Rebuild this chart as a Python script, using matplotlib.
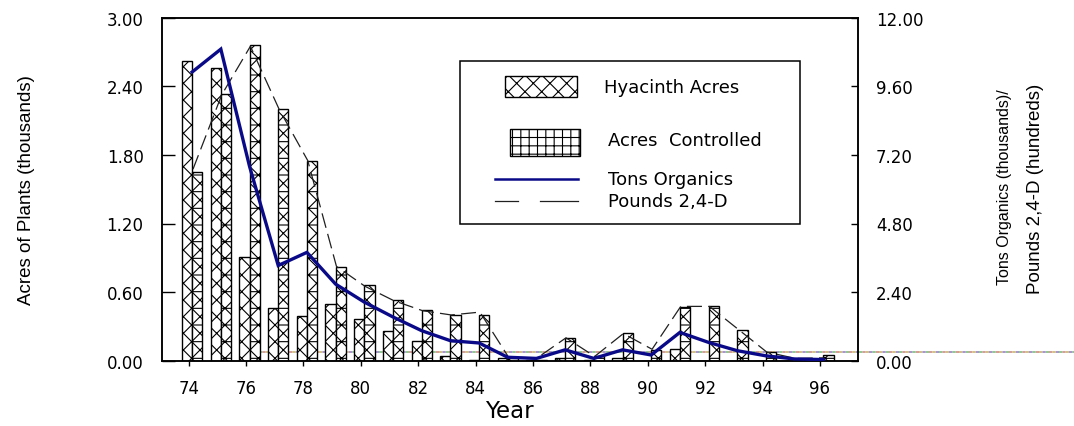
import matplotlib
matplotlib.use("Agg")
import matplotlib.pyplot as plt
from matplotlib.patches import Rectangle
from matplotlib.lines import Line2D
import numpy as np

# ---------------- data ----------------
years = list(range(74, 97))
hyacinth_acres = [2.62, 2.56, 0.91, 0.46, 0.39, 0.50, 0.365, 0.26, 0.17, 0.04, 0.01, 0.02,
                  0.01, 0.02, 0.01, 0.02, 0.0, 0.10, 0.0, 0.0, 0.0, 0.0, 0.0]
acres_controlled = [1.65, 2.33, 2.76, 2.20, 1.745, 0.82, 0.665, 0.53, 0.44, 0.40, 0.40, 0.02,
                    0.01, 0.195, 0.04, 0.24, 0.09, 0.47, 0.48, 0.27, 0.08, 0.01, 0.05]
tons_organics = [10.1, 10.9, 6.8, 3.33, 3.79, 2.68, 2.05, 1.53, 1.05, 0.70, 0.62, 0.12,
                 0.08, 0.38, 0.08, 0.38, 0.20, 0.99, 0.64, 0.35, 0.17, 0.06, 0.04]
pounds_24d = [6.7, 9.3, 11.0, 8.8, 7.0, 3.3, 2.6, 2.1, 1.75, 1.6, 1.7, 0.12,
              0.10, 0.80, 0.15, 0.95, 0.40, 1.9, 1.9, 1.1, 0.30, 0.08, 0.10]
reference_level = 0.08
left_ticks = [0.0, 0.6, 1.2, 1.8, 2.4, 3.0]
right_ticks = [0.0, 2.4, 4.8, 7.2, 9.6, 12.0]
x_ticks = list(range(74, 97, 2))
legend_labels = ["Hyacinth Acres", "Acres  Controlled", "Tons Organics", "Pounds 2,4-D"]

# ---------------- figure ----------------
plt.rcParams["font.family"] = ["DejaVu Sans"]
plt.rcParams["hatch.linewidth"] = 0.8
W, H = 1074, 427
fig = plt.figure(figsize=(W / 100, H / 100), dpi=100)

def fx(px):
    return px / W

def fy(py):
    return 1 - py / H

L, R, T, B = 162.3, 857.5, 18.7, 361.7
ax = fig.add_axes([fx(L), fy(B), (R - L) / W, (B - T) / H])
ax2 = ax.twinx()

x = np.array(years, dtype=float)
bw = 0.355
ax.bar(x - 0.056, hyacinth_acres, width=bw, facecolor="white", edgecolor="black",
       hatch="xx", linewidth=1.0, zorder=2)
ax.bar(x + 0.30, acres_controlled, width=bw, facecolor="white", edgecolor="black",
       hatch="xx-", linewidth=1.0, zorder=2)

ax.set_xlim(73.08, 97.31)
ax.set_ylim(0, 3.0)
ax2.set_ylim(0, 12.0)

# odd multicoloured dotted reference line extending past the axes
xr = [76.1, 105]
for col, off in zip(["#d08a8a", "#7cc07c", "#9a80c8", "#c8b870"], [0, 2, 4, 6]):
    ax.plot(xr, [reference_level, reference_level], color=col, lw=1.2,
            linestyle=(off, (2, 6)), dash_capstyle="butt", clip_on=False, zorder=1)

ax2.plot(x + 0.15, pounds_24d, color="#202020", lw=0.9, dashes=(12, 5), zorder=3)
ax2.plot(x + 0.12, tons_organics, color="#0a0a88", lw=2.4, zorder=4,
         solid_joinstyle="miter")

ax.set_xticks(x_ticks)
ax.set_xticklabels([str(v) for v in x_ticks])
ax.set_yticks(left_ticks)
ax.set_yticklabels(["%.2f" % v for v in left_ticks])
ax2.set_yticks(right_ticks)
ax2.set_yticklabels(["%.2f" % v for v in right_ticks])

ax.tick_params(axis="x", direction="out", length=3.6, width=1, pad=9.3, labelsize=12)
ax.tick_params(axis="y", direction="in", length=9, width=1, pad=13.5, labelsize=12)
ax2.tick_params(axis="y", direction="in", length=5, width=1, pad=13.3, labelsize=12)
for a in (ax, ax2):
    for s in a.spines.values():
        s.set_linewidth(1.1)

fig.text(fx(27), fy(190.5), "Acres of Plants (thousands)", rotation=90,
         ha="center", va="center", fontsize=13.5, family=["Liberation Sans"])
fig.text(fx(1004), fy(187.5), "Tons Organics (thousands)/", rotation=90,
         ha="center", va="center", fontsize=11.5, family=["Liberation Sans"])
fig.text(fx(1035), fy(189), "Pounds 2,4-D (hundreds)", rotation=90,
         ha="center", va="center", fontsize=13.5, family=["Liberation Sans"])
fig.text(fx(509), fy(412), "Year", ha="center", va="center", fontsize=16.5)

# ---------------- legend (drawn manually) ----------------
fig.patches.append(Rectangle((fx(460), fy(225)), (800 - 460) / W, (225 - 62) / H,
                             transform=fig.transFigure, facecolor="white",
                             edgecolor="black", lw=1.1, zorder=5))
fig.patches.append(Rectangle((fx(505), fy(98)), 72 / W, 21 / H, transform=fig.transFigure,
                             facecolor="white", edgecolor="black", hatch="xx", lw=1.0, zorder=6))
fig.patches.append(Rectangle((fx(510), fy(157)), 70 / W, 27 / H, transform=fig.transFigure,
                             facecolor="white", edgecolor="black", hatch="++", lw=1.0, zorder=6))
fig.lines.append(Line2D([fx(495), fx(578)], [fy(180), fy(180)], transform=fig.transFigure,
                        color="#0a0a88", lw=1.8, zorder=6))
for x0, x1 in [(495, 518), (540, 578)]:
    fig.lines.append(Line2D([fx(x0), fx(x1)], [fy(202), fy(202)], transform=fig.transFigure,
                            color="#202020", lw=0.9, zorder=6))
for lab, lx, ly in zip(legend_labels, [604, 608, 608, 608], [88, 141, 180, 202]):
    fig.text(fx(lx), fy(ly), lab, ha="left", va="center", fontsize=13, zorder=7)

fig.savefig("out.png", dpi=100)
